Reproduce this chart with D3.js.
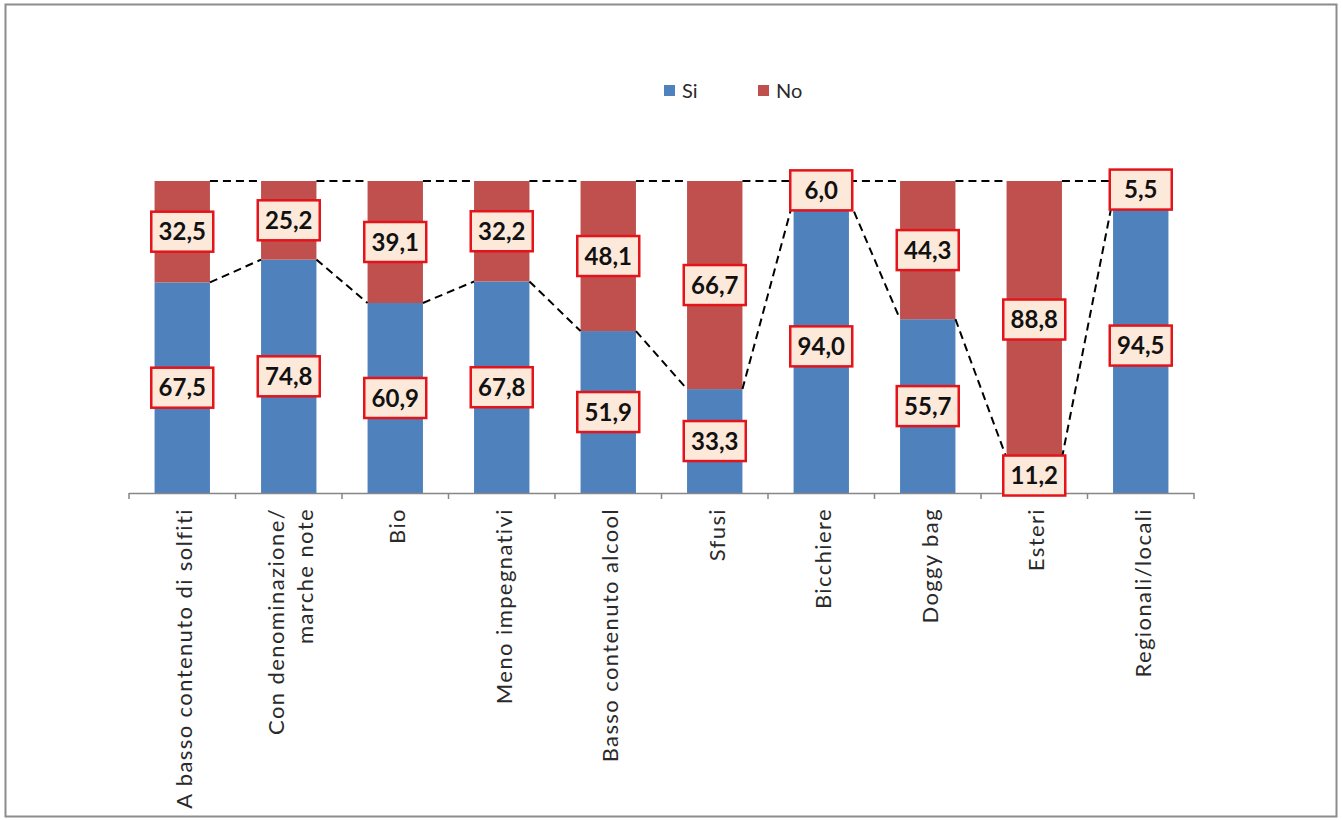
<!DOCTYPE html>
<html>
<head>
<meta charset="utf-8">
<script src="https://cdn.jsdelivr.net/npm/d3@7"></script>
<style>
  body { margin: 0; background: #fff; }
  #chart { width: 1343px; height: 820px; }
</style>
</head>
<body>
<div id="chart"></div>
<script>
var categories = ["A basso contenuto di solfiti", "Con denominazione/|marche note", "Bio",
    "Meno impegnativi", "Basso contenuto alcool", "Sfusi", "Bicchiere", "Doggy bag",
    "Esteri", "Regionali/locali"];
var si = [67.5, 74.8, 60.9, 67.8, 51.9, 33.3, 94.0, 55.7, 11.2, 94.5];
var no = [32.5, 25.2, 39.1, 32.2, 48.1, 66.7, 6.0, 44.3, 88.8, 5.5];
var seriesNames = ["Si", "No"];
var colors = ["#4f81bd", "#c0504d"];

var svg = d3.select("#chart").append("svg")
    .attr("width", 1343)
    .attr("height", 820);

// frame
svg.append("rect")
    .attr("x", 5.5).attr("y", 4.5)
    .attr("width", 1331).attr("height", 812)
    .attr("fill", "#fff")
    .attr("stroke", "#8c8c8c")
    .attr("stroke-width", 2);

var margin = {left: 129, top: 181},
    width = 1194 - 129,
    height = 493 - 181;

var x = d3.scaleBand()
    .domain(categories)
    .range([0, width])
    .paddingInner(0.48)
    .paddingOuter(0.24);

var y = d3.scaleLinear()
    .domain([0, 100])
    .range([height, 0]);

var g = svg.append("g")
    .attr("transform", "translate(" + margin.left + "," + margin.top + ")");

var data = categories.map(function(c, i) { return {cat: c, si: si[i], no: no[i]}; });
var stack = d3.stack().keys(["si", "no"])(data);

// bars
stack.forEach(function(layer, k) {
    g.selectAll(".bar" + k)
        .data(layer)
        .enter().append("rect")
        .attr("x", function(d) { return x(d.data.cat); })
        .attr("y", function(d) { return y(d[1]); })
        .attr("width", x.bandwidth())
        .attr("height", function(d) { return y(d[0]) - y(d[1]); })
        .attr("fill", colors[k]);
});

// series lines (dashed) between bars
stack.forEach(function(layer) {
    for (var i = 0; i < layer.length - 1; i++) {
        g.append("line")
            .attr("x1", x(categories[i]) + x.bandwidth())
            .attr("y1", y(layer[i][1]))
            .attr("x2", x(categories[i + 1]))
            .attr("y2", y(layer[i + 1][1]))
            .attr("stroke", "#000")
            .attr("stroke-width", 2)
            .attr("stroke-dasharray", "8,5");
    }
});

// x axis
var step = width / categories.length;
g.append("line")
    .attr("x1", 0).attr("x2", width)
    .attr("y1", height + 0.5).attr("y2", height + 0.5)
    .attr("stroke", "#868686").attr("stroke-width", 1.5);
d3.range(categories.length + 1).forEach(function(i) {
    g.append("line")
        .attr("x1", i * step).attr("x2", i * step)
        .attr("y1", height).attr("y2", height + 6)
        .attr("stroke", "#868686").attr("stroke-width", 1.5);
});

// axis labels
categories.forEach(function(c) {
    var lines = c.split("|");
    var cx = x(c) + x.bandwidth() / 2;
    var t = g.append("text")
        .attr("transform", "translate(" + (cx + 2) + "," + (height + 15) + ") rotate(-90)")
        .attr("text-anchor", "end")
        .attr("font-family", "Lato, 'Open Sans', sans-serif")
        .attr("font-size", "22px")
        .attr("letter-spacing", "1.4px")
        .attr("fill", "#2a2a2a");
    lines.forEach(function(l, j) {
        t.append("tspan")
            .attr("x", 0)
            .attr("y", (j - (lines.length - 1) / 2) * 29 + 8)
            .text(l);
    });
});

// data labels
stack.forEach(function(layer) {
    layer.forEach(function(d) {
        var cx = x(d.data.cat) + x.bandwidth() / 2;
        var cy = (y(d[0]) + y(d[1])) / 2;
        var val = d[1] - d[0];
        var lg = g.append("g").attr("transform", "translate(" + cx + "," + cy + ")");
        lg.append("rect")
            .attr("x", -31).attr("y", -20)
            .attr("width", 62).attr("height", 40)
            .attr("fill", "#fce9da")
            .attr("stroke", "#e3141b")
            .attr("stroke-width", 2.5);
        lg.append("text")
            .attr("text-anchor", "middle")
            .attr("dy", "0.36em")
            .attr("font-family", "Lato, 'Open Sans', sans-serif")
            .attr("font-weight", "bold")
            .attr("font-size", "24px")
            .attr("fill", "#111")
            .text(d3.format(".1f")(val).replace(".", ","));
    });
});

// legend
var legend = svg.append("g").attr("transform", "translate(664,91)");
seriesNames.forEach(function(n, i) {
    var lx = i * 94;
    legend.append("rect")
        .attr("x", lx).attr("y", -6)
        .attr("width", 11).attr("height", 11)
        .attr("fill", colors[i]);
    legend.append("text")
        .attr("x", lx + 18).attr("y", 0)
        .attr("dy", "0.36em")
        .attr("font-family", "Lato, 'Open Sans', sans-serif")
        .attr("font-size", "20px")
        .attr("fill", "#2a2a2a")
        .text(n);
});
</script>
</body>
</html>
